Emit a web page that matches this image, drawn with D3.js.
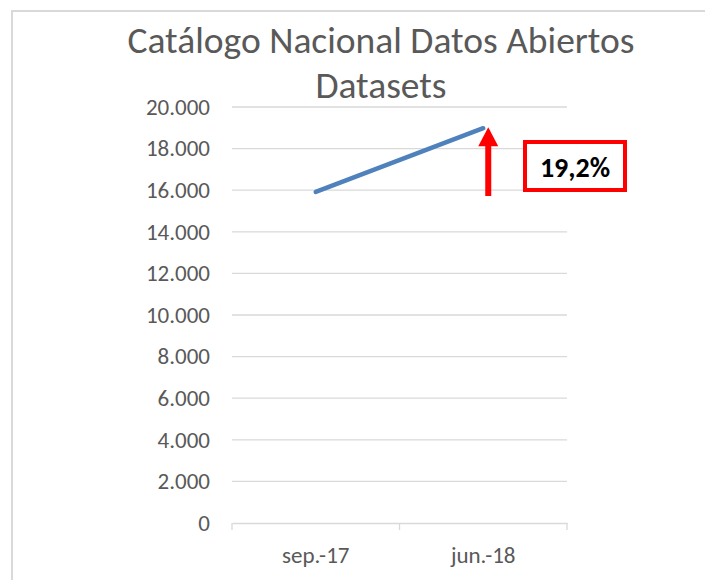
<!DOCTYPE html>
<html>
<head>
<meta charset="utf-8">
<script src="https://cdn.jsdelivr.net/npm/d3@7"></script>
<style>
  body { margin: 0; background: #fff; }
  svg { display: block; font-family: Carlito, Calibri, Lato, sans-serif; }
</style>
</head>
<body>
<div id="chart"></div>
<script>
let categories = ['sep.-17', 'jun.-18'];
let datasets = [15920, 18980];
let yTicks = [0, 2000, 4000, 6000, 8000, 10000, 12000, 14000, 16000, 18000, 20000];
let titleLines = ['Catálogo Nacional Datos Abiertos', 'Datasets'];
let growthLabel = '19,2%';

let width = 705;
let height = 580;
let plot = { left: 232, right: 567, top: 107, bottom: 523 };

let svg = d3.select('#chart').append('svg')
    .attr('width', width)
    .attr('height', height);

// chart frame (clipped by window on right and bottom)
svg.append('rect')
    .attr('x', 12).attr('y', 11)
    .attr('width', 720).attr('height', 600)
    .attr('fill', 'none')
    .attr('stroke', '#d9d9d9')
    .attr('stroke-width', 2);

let x = d3.scaleBand()
    .domain(categories)
    .range([plot.left, plot.right]);

let y = d3.scaleLinear()
    .domain([0, 20000])
    .range([plot.bottom, plot.top]);

let fmt = d3.formatLocale({ decimal: ',', thousands: '.', grouping: [3], currency: ['', ''] }).format(',');

// gridlines
svg.append('g')
    .selectAll('line')
    .data(yTicks.filter(d => d > 0))
    .join('line')
    .attr('x1', plot.left).attr('x2', plot.right)
    .attr('y1', d => y(d)).attr('y2', d => y(d))
    .attr('stroke', '#d9d9d9')
    .attr('stroke-width', 1.3);

// y labels
svg.append('g')
    .selectAll('text')
    .data(yTicks)
    .join('text')
    .attr('x', 210)
    .attr('y', d => y(d))
    .attr('dy', '0.34em')
    .attr('text-anchor', 'end')
    .attr('fill', '#595959')
    .attr('font-size', 23)
    .text(d => fmt(d));

// x axis
let xAxis = svg.append('g')
    .attr('transform', `translate(0,${plot.bottom})`)
    .call(d3.axisBottom(x).tickSize(0).tickFormat(''));
xAxis.select('.domain').attr('stroke', '#d9d9d9').attr('stroke-width', 1.3);
xAxis.selectAll('.tick').remove();

let edges = [plot.left].concat(categories.map(c => x(c) + x.bandwidth()));
xAxis.selectAll('line.edge')
    .data(edges)
    .join('line')
    .attr('class', 'edge')
    .attr('x1', d => d).attr('x2', d => d)
    .attr('y1', 0).attr('y2', 7)
    .attr('stroke', '#d9d9d9')
    .attr('stroke-width', 1.3);

svg.append('g')
    .selectAll('text')
    .data(categories)
    .join('text')
    .attr('x', d => x(d) + x.bandwidth() / 2)
    .attr('y', 563)
    .attr('text-anchor', 'middle')
    .attr('fill', '#595959')
    .attr('font-size', 23)
    .text(d => d);

// data line
let line = d3.line()
    .x((d, i) => x(categories[i]) + x.bandwidth() / 2)
    .y(d => y(d));

svg.append('path')
    .datum(datasets)
    .attr('d', line)
    .attr('fill', 'none')
    .attr('stroke', '#4f81bd')
    .attr('stroke-width', 4.5)
    .attr('stroke-linecap', 'round');

// title
svg.append('g')
    .selectAll('text')
    .data(titleLines)
    .join('text')
    .attr('x', 381)
    .attr('y', (d, i) => 53 + i * 45)
    .attr('text-anchor', 'middle')
    .attr('fill', '#595959')
    .attr('font-size', 37.5)
    .text(d => d);

// growth arrow
let ax = x(categories[1]) + x.bandwidth() / 2 + 5;
let tipY = y(datasets[1]) - 1;
svg.append('rect')
    .attr('x', ax - 3).attr('y', tipY + 16)
    .attr('width', 6).attr('height', 196 - tipY - 16)
    .attr('fill', '#ff0000');
svg.append('path')
    .attr('d', `M${ax},${tipY} L${ax + 10},${tipY + 19} L${ax - 10},${tipY + 19} Z`)
    .attr('fill', '#ff0000');

// growth box
svg.append('rect')
    .attr('x', 525).attr('y', 142)
    .attr('width', 100).attr('height', 48)
    .attr('fill', '#fff')
    .attr('stroke', '#ff0000')
    .attr('stroke-width', 4);
svg.append('text')
    .attr('x', 575)
    .attr('y', 177)
    .attr('text-anchor', 'middle')
    .attr('font-weight', 'bold')
    .attr('font-size', 28)
    .attr('fill', '#000')
    .text(growthLabel);
</script>
</body>
</html>
